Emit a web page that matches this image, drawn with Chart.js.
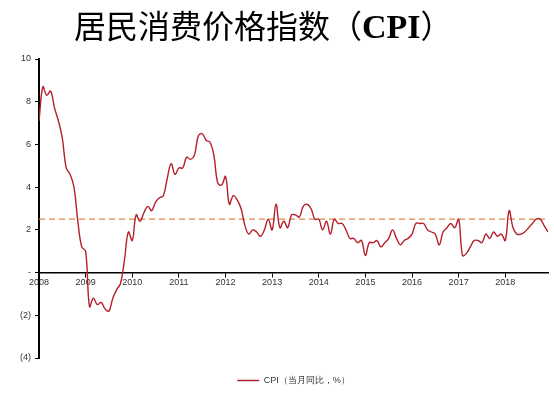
<!DOCTYPE html>
<html>
<head>
<meta charset="utf-8">
<script src="https://cdn.jsdelivr.net/npm/chart.js@4.4.1/dist/chart.umd.min.js"></script>
<style>
    body { margin: 0; background: #fff; }
    #wrap { position: relative; width: 554px; height: 394px; }
    #title {
        position: absolute; left: 74px; top: 4px; white-space: nowrap;
        font-family: "Noto Sans CJK SC", sans-serif; font-size: 32px; color: #000; line-height: 40px;
    }
    #title b { font-family: "Liberation Serif", serif; font-weight: bold; font-size: 34px; }
    canvas { position: absolute; left: 0; top: 0; }
</style>
</head>
<body>
<div id="wrap">
    <canvas id="chart" width="554" height="394"></canvas>
    <div id="title">居民消费价格指数（<b>CPI</b>）</div>
</div>
<script>
// 2008-01 .. 2018-12, monthly YoY %
const YEARS = ['2008', '2009', '2010', '2011', '2012', '2013', '2014', '2015', '2016', '2017', '2018'];
const CPI = [
    7.1, 8.7, 8.3, 8.5, 7.7, 7.1, 6.3, 4.9, 4.6, 4.0, 2.4, 1.2,
    1.0, -1.6, -1.2, -1.5, -1.4, -1.7, -1.8, -1.2, -0.8, -0.5, 0.6, 1.9,
    1.5, 2.7, 2.4, 2.8, 3.1, 2.9, 3.3, 3.5, 3.6, 4.4, 5.1, 4.6,
    4.9, 4.9, 5.4, 5.3, 5.5, 6.4, 6.5, 6.2, 6.1, 5.5, 4.2, 4.1,
    4.5, 3.2, 3.6, 3.4, 3.0, 2.2, 1.8, 2.0, 1.9, 1.7, 2.0, 2.5,
    2.0, 3.2, 2.1, 2.4, 2.1, 2.7, 2.7, 2.6, 3.1, 3.2, 3.0, 2.5,
    2.5, 2.0, 2.4, 1.8, 2.5, 2.3, 2.3, 2.0, 1.6, 1.6, 1.4, 1.5,
    0.8, 1.4, 1.4, 1.5, 1.2, 1.4, 1.6, 2.0, 1.6, 1.3, 1.5, 1.6,
    1.8, 2.3, 2.3, 2.3, 2.0, 1.9, 1.8, 1.3, 1.9, 2.1, 2.3, 2.1,
    2.5, 0.8, 0.9, 1.2, 1.5, 1.5, 1.4, 1.8, 1.6, 1.9, 1.7, 1.8,
    1.5, 2.9, 2.1, 1.8, 1.8, 1.9, 2.1, 2.3, 2.5, 2.5, 2.2, 1.9
];
const TARGET = 2.5;
const Y_TICKS = [-4, -2, 0, 2, 4, 6, 8, 10];

const lastIdx = CPI.length - 1;

function yLabel(v) {
    if (v === 0) return '-';
    if (v < 0) return '(' + (-v) + ')';
    return String(v);
}

// give the legend a fixed band under the plot
const legendBand = {
    id: 'legendBand',
    afterInit(chart) {
        const lg = chart.legend;
        const fit = lg.fit;
        lg.fit = function () {
            fit.call(this);
            this.height = 36;
        };
    },
};

new Chart(document.getElementById('chart'), {
    type: 'line',
    data: {
        datasets: [
            {
                label: 'CPI（当月同比，%）',
                data: CPI.map((v, i) => ({ x: i, y: v })),
                borderColor: '#b3202c',
                backgroundColor: '#b3202c',
                borderWidth: 1.4,
                pointRadius: 0,
                tension: 0.4,
                order: 1,
            },
            {
                label: 'target',
                data: [{ x: 0, y: TARGET }, { x: lastIdx, y: TARGET }],
                borderColor: '#e0884a',
                borderWidth: 1.3,
                borderDash: [6, 4],
                pointRadius: 0,
                order: 2,
            },
        ],
    },
    plugins: [legendBand],
    options: {
        responsive: false,
        animation: false,
        layout: { padding: { top: 59, right: 6, left: 0, bottom: 0 } },
        plugins: {
            title: { display: false },
            tooltip: { enabled: false },
            legend: {
                position: 'bottom',
                fullSize: false,
                labels: {
                    filter: (item) => item.text !== 'target',
                    boxWidth: 22,
                    boxHeight: 0,
                    color: '#333',
                    font: { size: 9, family: 'Liberation Sans' },
                    padding: 18,
                },
            },
        },
        scales: {
            x: {
                type: 'linear',
                position: { y: 0 },
                min: 0,
                max: lastIdx,
                afterBuildTicks: (scale) => {
                    scale.ticks = YEARS.map((y, i) => ({ value: i * 12 }));
                },
                ticks: {
                    autoSkip: false,
                    maxRotation: 0,
                    padding: 1,
                    color: '#333',
                    font: { size: 9, family: 'Liberation Sans' },
                    callback: (v) => YEARS[v / 12],
                },
                grid: { display: true, drawOnChartArea: false, drawTicks: true, tickLength: 4, color: '#000' },
                border: { color: '#000', width: 1.5 },
            },
            y: {
                min: -4,
                max: 10,
                afterBuildTicks: (scale) => {
                    scale.ticks = Y_TICKS.map((v) => ({ value: v }));
                },
                afterFit: (scale) => { scale.width = 39; },
                ticks: {
                    padding: 4,
                    color: '#333',
                    font: { size: 9, family: 'Liberation Sans' },
                    callback: (v) => yLabel(v),
                },
                grid: { display: true, drawOnChartArea: false, drawTicks: true, tickLength: 4, color: '#000' },
                border: { color: '#000', width: 2 },
            },
        },
    },
});
</script>
</body>
</html>
